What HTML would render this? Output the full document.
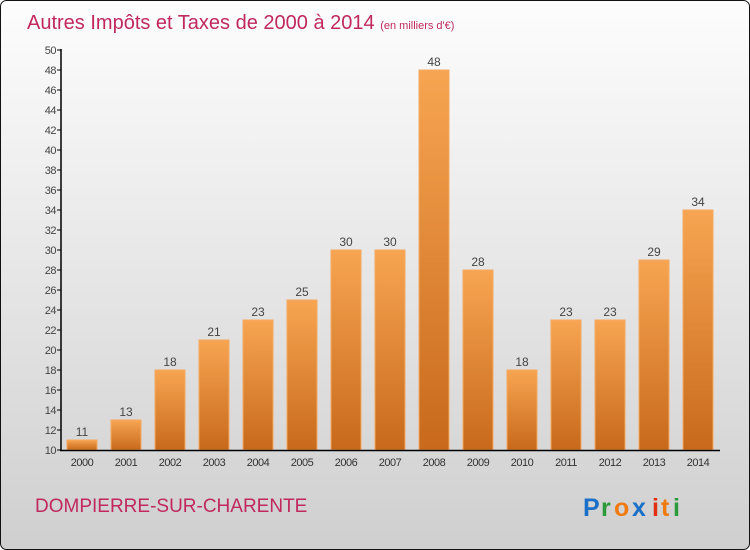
<!DOCTYPE html>
<html><head><meta charset="utf-8"><style>
html,body{margin:0;padding:0;width:750px;height:550px;overflow:hidden;font-family:"Liberation Sans","DejaVu Sans",sans-serif}
</style></head><body>
<svg id="c" width="750" height="550" xmlns="http://www.w3.org/2000/svg">
<defs>
<linearGradient id="bg" x1="0" y1="0" x2="0" y2="1"><stop offset="0" stop-color="#fdfdfd"/><stop offset="1" stop-color="#cfcfcf"/></linearGradient>
<linearGradient id="bar" x1="0" y1="0" x2="0" y2="1"><stop offset="0" stop-color="#f7a552"/><stop offset="1" stop-color="#c8691b"/></linearGradient>
</defs>
<rect x="0.5" y="0.5" width="749" height="549" rx="6" fill="url(#bg)" stroke="#111"/>
<text x="27" y="29" font-size="20" fill="#c0285e">Autres Impôts et Taxes de 2000 à 2014 <tspan font-size="11">(en milliers d'€)</tspan></text>
<text x="35" y="512" font-size="19" fill="#c0285e">DOMPIERRE-SUR-CHARENTE</text>
<g font-size="25" font-weight="bold">
<text x="583" y="516" fill="#1a70c8">P</text><text x="601" y="516" fill="#2a9a3a">r</text><text x="614" y="516" fill="#f07a10">o</text><text x="632" y="516" fill="#1a70c8">x</text><text x="652" y="516" fill="#e03010">i</text><text x="661" y="516" fill="#f07a10">t</text><text x="673" y="516" fill="#2a9a3a">i</text>
</g>
<g id="plot"></g>
</svg>
<script>
const years=["2000","2001","2002","2003","2004","2005","2006","2007","2008","2009","2010","2011","2012","2013","2014"];
const values=[11,13,18,21,23,25,30,30,48,28,18,23,23,29,34];
const ticks=[10,12,14,16,18,20,22,24,26,28,30,32,34,36,38,40,42,44,46,48,50];
const NS="http://www.w3.org/2000/svg";
const g=document.getElementById('plot');
const y0=450,yMin=10,yMax=50,plotH=400;
function yS(v){return y0-(v-yMin)/(yMax-yMin)*plotH;}
function xS(i){return 82+i*44;}
function mk(t,a){const e=document.createElementNS(NS,t);for(const k in a)e.setAttribute(k,a[k]);g.appendChild(e);return e;}
ticks.forEach(t=>{
 const l=mk('line',{x1:57,x2:61,y1:yS(t),y2:yS(t),stroke:'#000'});
 
 
 const tx=mk('text',{x:56,y:yS(t)+4,'text-anchor':'end','font-size':11,fill:'#444','letter-spacing':'-0.5'});
 tx.textContent=t;
 
 
});
values.forEach((v,i)=>{
 const r=mk('rect',{x:xS(i)-15,y:yS(v),width:30,height:y0-yS(v),fill:'url(#bar)',stroke:'#f4a960','stroke-width':1});
 
 
 const t=mk('text',{x:xS(i),y:yS(v)-4,'text-anchor':'middle','font-size':12,fill:'#444'});
 t.textContent=v;
 
 
 const xl=mk('text',{x:xS(i),y:466,'text-anchor':'middle','font-size':11,fill:'#333','letter-spacing':'-0.5'});
 xl.textContent=years[i];
 
 
});
const ya=mk('line',{x1:61,x2:61,y1:49,y2:451,stroke:'#000','stroke-width':1.5});


const xa=mk('line',{x1:60,x2:720,y1:450.5,y2:450.5,stroke:'#000','stroke-width':1.5});


</script>
</body></html>
